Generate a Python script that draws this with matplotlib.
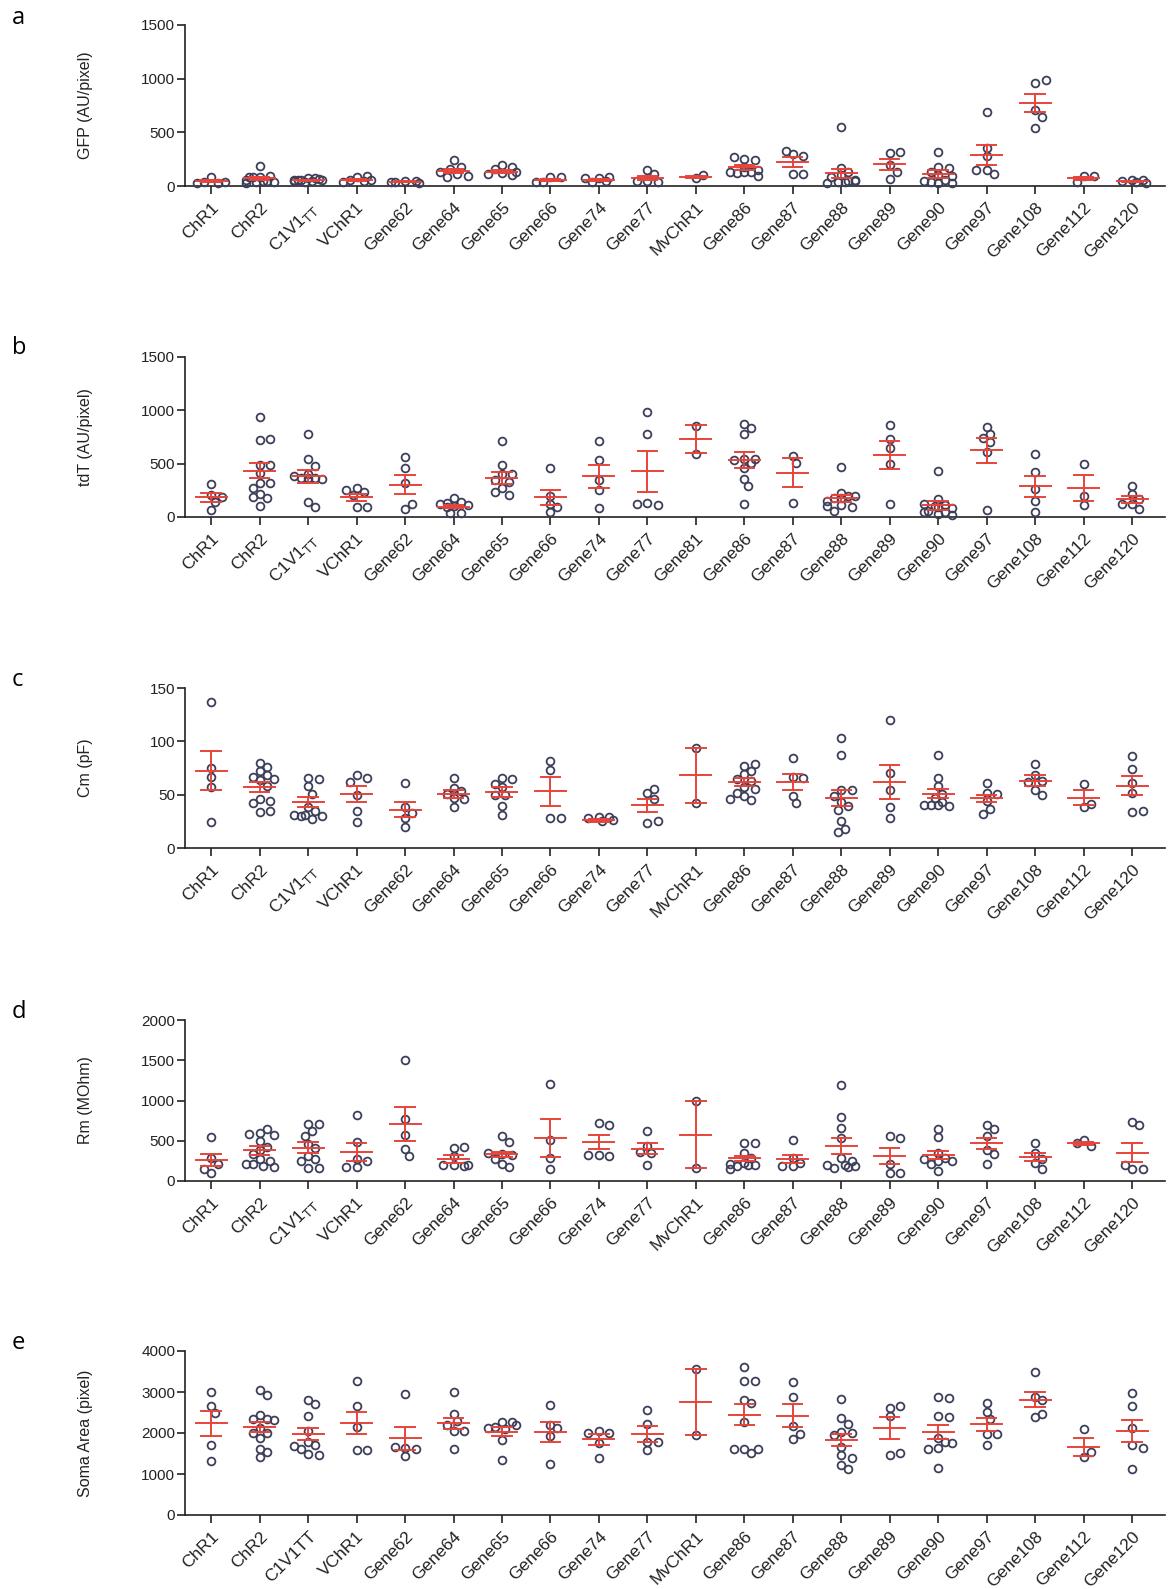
import numpy as np
import matplotlib
matplotlib.use("Agg")
import matplotlib.pyplot as plt

plt.rcParams['font.family'] = ['Liberation Sans', 'DejaVu Sans']

# categories (tick labels) per panel
cats_a = ['ChR1', 'ChR2', 'C1V1$_{\\mathrm{TT}}$', 'VChR1', 'Gene62', 'Gene64', 'Gene65', 'Gene66',
          'Gene74', 'Gene77', 'MvChR1', 'Gene86', 'Gene87', 'Gene88', 'Gene89', 'Gene90',
          'Gene97', 'Gene108', 'Gene112', 'Gene120']
cats_b = cats_a[:10] + ['Gene81'] + cats_a[11:]
cats_e = cats_a[:2] + ['C1V1TT'] + cats_a[3:]

# ---- panel a: GFP ----
gfp_pts = [
    [80, 30, 35, 30, 40],
    [185, 85, 95, 80, 45, 40, 35, 60, 80, 50, 30],
    [70, 65, 60, 55, 50, 45, 60, 70, 40, 55],
    [85, 90, 55, 40, 45, 60],
    [45, 50, 40, 30, 35],
    [240, 180, 155, 110, 85, 95, 130],
    [195, 180, 160, 120, 100, 110, 130],
    [85, 85, 40, 35],
    [75, 80, 40, 75, 45],
    [150, 110, 45, 40, 45],
    [70, 100],
    [255, 240, 270, 180, 135, 120, 95, 130, 135, 150],
    [295, 280, 330, 110, 110],
    [550, 170, 130, 100, 85, 50, 45, 40, 25, 35, 60],
    [310, 315, 195, 135, 65],
    [320, 175, 170, 130, 100, 60, 40, 30, 25, 50, 90],
    [690, 355, 280, 150, 110, 150],
    [960, 985, 705, 645, 540],
    [90, 95, 40],
    [55, 60, 45, 30, 40],
]
gfp_mean = [46, 71, 55, 56, 40, 139, 133, 55, 56, 77, 85, 173, 226, 118, 201, 114, 288, 773, 71, 45]
gfp_sem = [8, 15, 4, 7, 4, 20, 12, 12, 8, 20, 8, 20, 45, 45, 50, 38, 90, 88, 15, 5]

# ---- panel b: tdT ----
tdt_pts = [
    [310, 210, 185, 145, 65],
    [935, 725, 730, 490, 490, 410, 320, 320, 270, 220, 180, 185, 100],
    [775, 540, 480, 400, 370, 365, 360, 380, 140, 90, 370],
    [275, 230, 250, 205, 90, 95],
    [565, 455, 320, 75, 120],
    [175, 140, 130, 110, 100, 40, 35, 120, 95],
    [710, 490, 400, 400, 350, 270, 210, 230, 330],
    [455, 195, 120, 90, 45],
    [710, 535, 345, 255, 80],
    [980, 775, 135, 110, 125],
    [850, 590],
    [875, 830, 775, 545, 540, 530, 460, 360, 290, 120, 510],
    [575, 505, 135],
    [465, 225, 195, 175, 110, 90, 60, 150, 200, 100, 180],
    [865, 730, 650, 500, 120],
    [430, 170, 110, 100, 80, 60, 30, 45, 120, 90, 50, 20],
    [840, 775, 740, 700, 605, 65],
    [590, 420, 260, 150, 50],
    [500, 195, 110],
    [290, 215, 165, 120, 75, 125],
]
tdt_mean = [186, 435, 382, 186, 304, 96, 366, 183, 382, 428, 730, 537, 413, 174, 584, 109, 624, 289, 270, 165]
tdt_sem = [42, 70, 60, 33, 93, 15, 55, 70, 109, 190, 128, 76, 136, 30, 130, 39, 117, 97, 120, 31]

# ---- panel c: Cm ----
cm_pts = [
    [137, 75, 67, 57, 24],
    [80, 76, 72, 68, 67, 65, 64, 58, 46, 44, 42, 34, 35],
    [66, 65, 58, 51, 38, 35, 31, 30, 27, 31, 30],
    [68, 66, 62, 50, 35, 24],
    [61, 38, 33, 28, 20],
    [66, 56, 53, 51, 47, 46, 38],
    [66, 65, 60, 57, 50, 50, 39, 31],
    [82, 73, 28, 28],
    [29, 29, 28, 25, 26],
    [52, 55, 46, 23, 25],
    [94, 42],
    [77, 79, 72, 69, 65, 63, 57, 55, 52, 49, 45, 46],
    [84, 67, 66, 49, 42],
    [103, 87, 54, 54, 49, 43, 39, 36, 25, 18, 15],
    [120, 70, 54, 38, 28],
    [87, 66, 58, 51, 47, 43, 40, 39, 40, 40],
    [61, 52, 51, 44, 37, 32],
    [79, 68, 63, 62, 54, 50],
    [60, 38, 41],
    [86, 74, 61, 52, 34, 35],
]
cm_mean = [72.5, 57, 43, 51, 36, 50.5, 52.6, 53, 26, 40, 68, 62, 62, 47, 62, 51, 46.5, 63, 47, 58.5]
cm_sem = [18.5, 4.5, 5, 7.5, 7, 3.5, 4.5, 14, 1.5, 6.3, 26, 4, 7.5, 7.5, 16, 4.5, 3.5, 5, 7, 9]

# ---- panel d: Rm ----
rm_pts = [
    [550, 280, 215, 100, 150],
    [600, 640, 580, 570, 495, 420, 380, 330, 270, 250, 205, 185, 205, 180],
    [710, 705, 625, 565, 455, 410, 310, 270, 245, 165, 160],
    [815, 485, 275, 245, 175, 180],
    [1500, 770, 575, 400, 310],
    [405, 420, 310, 200, 185, 195, 200],
    [555, 480, 330, 320, 270, 215, 175, 350],
    [1200, 515, 290, 155],
    [720, 700, 320, 315, 320],
    [620, 440, 350, 360, 195],
    [990, 160],
    [475, 475, 350, 290, 225, 195, 190, 155, 200, 210],
    [505, 290, 220, 185, 190],
    [1190, 795, 660, 530, 280, 250, 195, 165, 195, 190, 170],
    [565, 535, 215, 105, 100],
    [645, 550, 350, 290, 250, 205, 130, 250, 270],
    [690, 640, 555, 390, 330, 215],
    [475, 350, 270, 225, 155],
    [510, 430, 470],
    [735, 700, 155, 150, 195],
]
rm_mean = [260, 379, 412, 359, 709, 276, 330, 536, 482, 400, 577, 280, 276, 433, 309, 318, 466, 297, 470, 350]
rm_sem = [76, 60, 70, 110, 213, 52, 33, 237, 89, 70, 415, 31, 52, 103, 103, 50, 70, 53, 20, 120]

# ---- panel e: soma area ----
soma_pts = [
    [2990, 2660, 2480, 1700, 1320],
    [3040, 2930, 2440, 2340, 2330, 2130, 2010, 2000, 1870, 1610, 1540, 1420, 2320],
    [2810, 2710, 2420, 2050, 1770, 1700, 1620, 1480, 1470, 1690],
    [3260, 2660, 2150, 1580, 1580],
    [2960, 1640, 1620, 1440, 1650],
    [2990, 2470, 2290, 2060, 2050, 1600, 2200],
    [2270, 2260, 2150, 2120, 2100, 1840, 1350, 2200],
    [2690, 2190, 2110, 1930, 1240],
    [2050, 1990, 2000, 1750, 1390],
    [2560, 2230, 1790, 1580, 1790],
    [3550, 1940],
    [3600, 3260, 3260, 2800, 2730, 2280, 1620, 1520, 1610, 1620],
    [3240, 2890, 2160, 1850, 1970],
    [2830, 2360, 2230, 2030, 2000, 1660, 1460, 1230, 1950, 1400, 1130],
    [2610, 2420, 2650, 1460, 1510],
    [2890, 2850, 2420, 2400, 1870, 1770, 1640, 1620, 1150, 1750],
    [2730, 2520, 2340, 1980, 1970, 1700],
    [3500, 2890, 2810, 2390, 2470],
    [2100, 1410, 1530],
    [2970, 2660, 2130, 1700, 1640, 1110],
]
soma_mean = [2238, 2148, 1975, 2254, 1869, 2238, 2033, 2033, 1844, 1975, 2746, 2443, 2426, 1828,
             2115, 2033, 2213, 2811, 1664, 2049]
soma_sem = [308, 123, 152, 267, 283, 131, 111, 246, 131, 185, 803, 254, 287, 156, 267, 172, 160,
            189, 213, 279]

DOT = '#3c3f5a'
RED = '#e8443a'
W, H = 1168, 1589


def swarm_offsets(ax, x0, vals, diam=7.5, step=3.5, kmax=4):
    """simple beeswarm in pixel space (overlap allowed past kmax), offsets in data units"""
    tr = ax.transData
    ys = tr.transform(np.column_stack([np.full(len(vals), x0), vals]))[:, 1]
    px_unit = tr.transform((1, 0))[0] - tr.transform((0, 0))[0]
    cands = [0]
    for k in range(1, kmax + 1):
        cands += [k, -k]
    placed, offs = [], []
    for y in ys:
        best, best_pen = 0, None
        for k in cands:
            xo = k * step
            pen = sum(max(0.0, diam - np.hypot(xo - px, y - py)) for px, py in placed)
            if best_pen is None or pen < best_pen - 1e-9:
                best, best_pen = xo, pen
            if pen == 0:
                break
        placed.append((best, y))
        offs.append(best / px_unit)
    return np.array(offs)


def panel(fig, top_px, bot_px, cats, pts, means, sems, ymax, yticks, ylabel, letter, letter_y):
    left_px, right_px = 185, 1165
    ax = fig.add_axes([left_px / W, 1 - bot_px / H, (right_px - left_px) / W, (bot_px - top_px) / H])
    ax.set_xlim(-0.54, 19.68)
    ax.set_ylim(0, ymax)
    for i, vals in enumerate(pts):
        offs = swarm_offsets(ax, i, vals)
        ax.plot(i + offs, vals, 'o', ms=5.6, mfc='none', mec=DOT, mew=1.3, clip_on=False, zorder=3)
        m, s = means[i], sems[i]
        ax.plot([i - 0.32, i + 0.32], [m, m], color=RED, lw=1.4, zorder=4, clip_on=False)
        ax.plot([i, i], [m - s, m + s], color=RED, lw=1.4, zorder=4, clip_on=False)
        for yy in (m - s, m + s):
            ax.plot([i - 0.2, i + 0.2], [yy, yy], color=RED, lw=1.4, zorder=4, clip_on=False)
    ax.set_xticks(range(len(cats)))
    ax.set_xticklabels(cats, rotation=45, ha='right', rotation_mode='anchor', fontsize=12.5)
    ax.set_yticks(yticks)
    ax.set_yticklabels([str(t) for t in yticks], fontsize=11)
    ax.tick_params(axis='x', length=6, width=1.2, pad=4, colors='#222222')
    ax.tick_params(axis='y', length=6, width=1.2, pad=1, colors='#222222')
    for side in ('top', 'right'):
        ax.spines[side].set_visible(False)
    for side in ('left', 'bottom'):
        ax.spines[side].set_linewidth(1.2)
        ax.spines[side].set_color('#222222')
    ax.set_ylabel(ylabel, fontsize=11.5, color='#222222')
    ax.yaxis.set_label_coords(-0.094, 0.5)
    fig.text(12 / W, 1 - letter_y / H, letter, fontsize=17, family='Open Sans', va='center', ha='left')
    return ax


fig = plt.figure(figsize=(W / 100, H / 100), dpi=100)
panel(fig, 25, 186, cats_a, gfp_pts, gfp_mean, gfp_sem, 1500, [0, 500, 1000, 1500],
      'GFP (AU/pixel)', 'a', 18)
panel(fig, 357, 517, cats_b, tdt_pts, tdt_mean, tdt_sem, 1500, [0, 500, 1000, 1500],
      'tdT (AU/pixel)', 'b', 348)
panel(fig, 688, 848, cats_a, cm_pts, cm_mean, cm_sem, 150, [0, 50, 100, 150],
      'Cm (pF)', 'c', 680)
panel(fig, 1020, 1181, cats_a, rm_pts, rm_mean, rm_sem, 2000, [0, 500, 1000, 1500, 2000],
      'Rm (MOhm)', 'd', 1012)
panel(fig, 1351, 1515, cats_e, soma_pts, soma_mean, soma_sem, 4000, [0, 1000, 2000, 3000, 4000],
      'Soma Area (pixel)', 'e', 1343)

fig.savefig('out.png', dpi=100)
